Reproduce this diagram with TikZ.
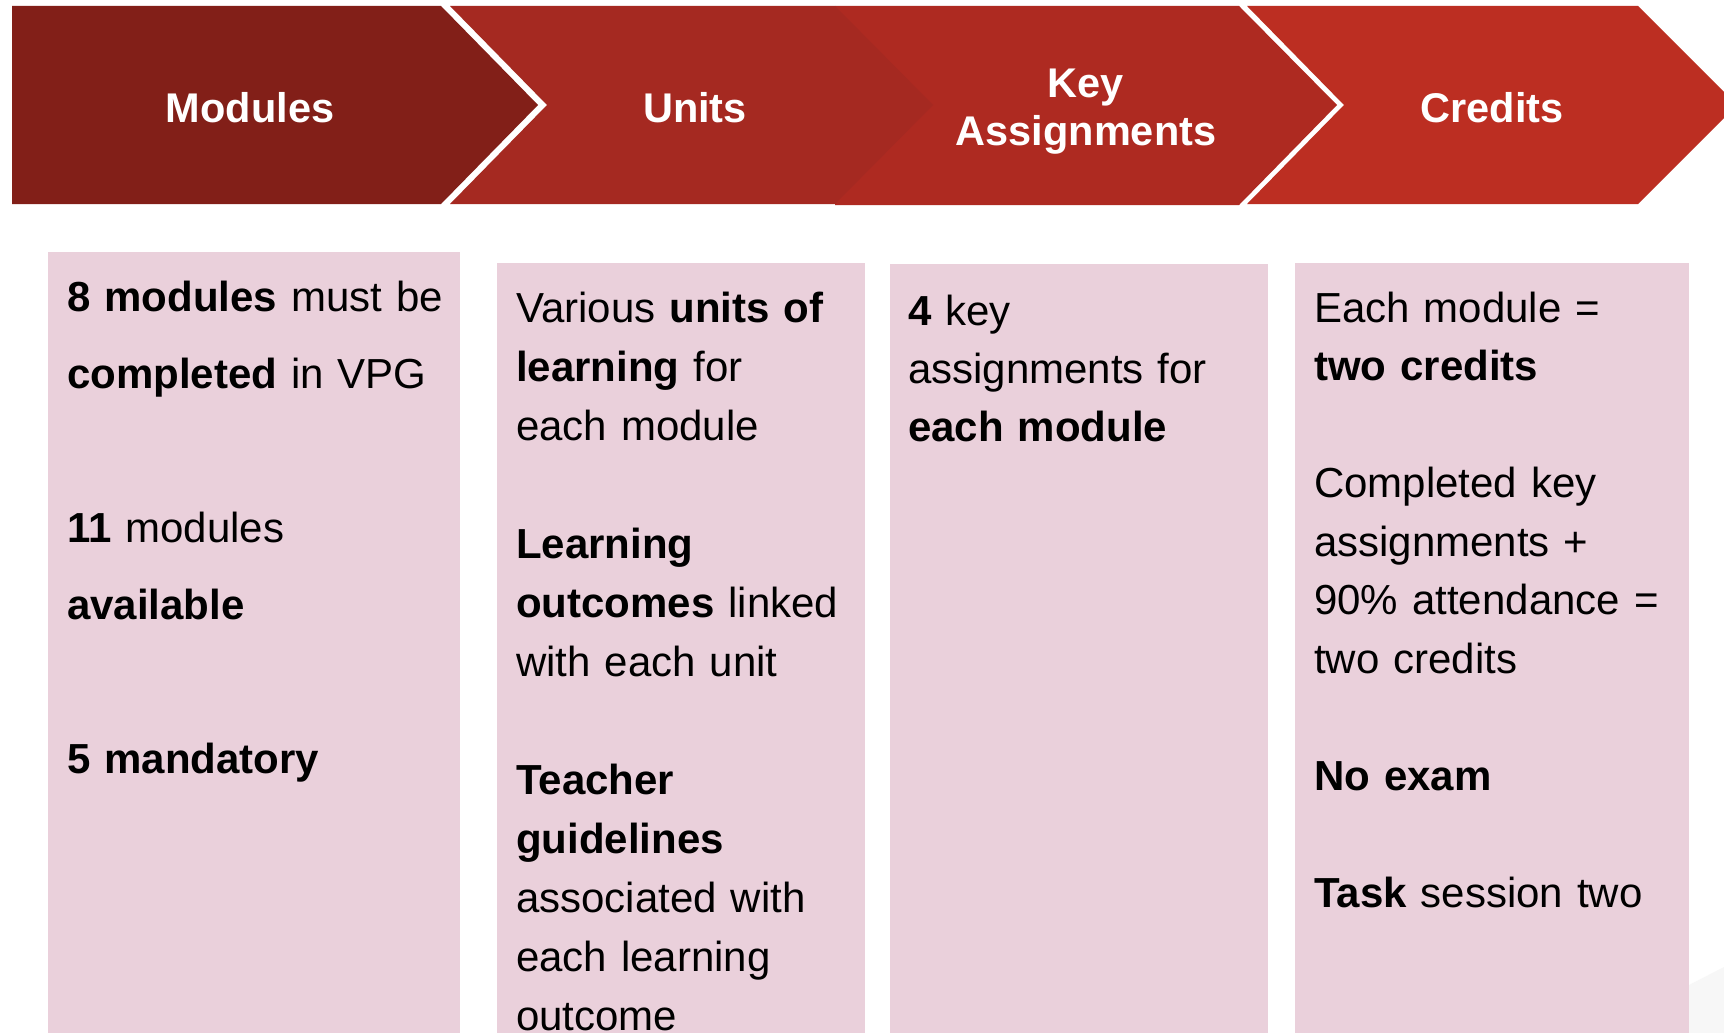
\documentclass[tikz,border=0pt]{standalone}
\usepackage{fontspec}
\setmainfont{Liberation Sans}
\definecolor{chevA}{RGB}{130,31,24}
\definecolor{chevB}{RGB}{165,41,33}
\definecolor{chevC}{RGB}{174,42,33}
\definecolor{chevD}{RGB}{188,46,34}
\definecolor{panel}{RGB}{234,208,219}
\definecolor{haze}{RGB}{247,247,247}

\begin{document}
\begin{tikzpicture}[x=1pt,y=-1pt,
  head/.style={text=white,inner sep=0pt,anchor=base,align=center,
    font=\fontsize{41.5}{48}\selectfont\bfseries},
  panelbox/.style={fill=panel,draw=none,inner sep=0pt,anchor=north west,
    minimum height=820pt},
  body/.style={anchor=base west,inner sep=0pt,align=left,text width=#1},
  body/.default=400pt]

\clip (0,0) rectangle (1724,1033);
\fill[white] (0,0) rectangle (1724,1033);

% process chevrons (third one sits behind the tip of the second)
\fill[chevC] (835,6) -- (1239,6) -- (1337,105) -- (1239,205) -- (835,205) -- cycle;
\fill[chevA] (12,6) -- (441,6) -- (538,105) -- (441,204) -- (12,204) -- cycle;
\fill[chevB] (450,6) -- (835,6) -- (933,105) -- (835,204) -- (450,204) -- (547,105) -- cycle;
\fill[chevD] (1247,6) -- (1638,6) -- (1737,105) -- (1638,204) -- (1247,204) -- (1344,105) -- cycle;

% stage titles
\node[head] (hmod)  at (250,122)  {Modules};
\node[head] (hunit) at (695,122)  {Units};
\node[head,text width=320pt] (hkey) at (1086,97) {Key\\Assignments};
\node[head] (hcred) at (1492,122) {Credits};

% faint shape in the lower right corner
\fill[haze] (1689,985) -- (1724,967) -- (1724,1033) -- (1689,1033) -- cycle;

% detail panels
\node[panelbox,minimum width=412pt] (p1) at (48,252)  {};
\node[panelbox,minimum width=368pt] (p2) at (497,263) {};
\node[panelbox,minimum width=378pt] (p3) at (890,264) {};
\node[panelbox,minimum width=394pt] (p4) at (1295,263) {};

\node[body,font=\fontsize{42}{77}\selectfont] (t1) at (67,311) {%
\textbf{8 modules} must be\\
\textbf{completed} in VPG\\[77pt]
\textbf{11} modules\\
\textbf{available}\\[77pt]
\textbf{5 mandatory}};

\node[body,font=\fontsize{42}{59}\selectfont] (t2) at (516,322) {%
Various \textbf{units of}\\
\textbf{learning} for\\
each module\\[59pt]
\textbf{Learning}\\
\textbf{outcomes} linked\\
with each unit\\[59pt]
\textbf{Teacher}\\
\textbf{guidelines}\\
associated with\\
each learning\\
outcome};

\node[body,font=\fontsize{42}{58}\selectfont] (t3) at (908,325) {%
\textbf{4} key\\
assignments for\\
\textbf{each module}};

\node[body,font=\fontsize{42}{58.5}\selectfont] (t4) at (1314,322) {%
Each module =\\
\textbf{two credits}\\[58.5pt]
Completed key\\
assignments +\\
90\% attendance =\\
two credits\\[58.5pt]
\textbf{No exam}\\[58.5pt]
\textbf{Task} session two};

\end{tikzpicture}
\end{document}
